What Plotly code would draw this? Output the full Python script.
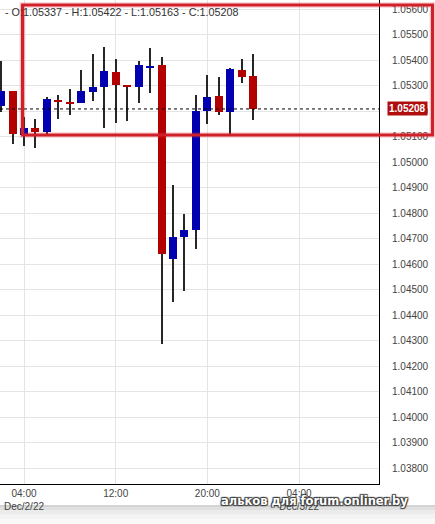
import plotly.graph_objects as go

# ---- data (hourly EUR/USD candles) ----
times = [
    "2022-12-02 02:00", "2022-12-02 03:00", "2022-12-02 04:00", "2022-12-02 05:00",
    "2022-12-02 06:00", "2022-12-02 07:00", "2022-12-02 08:00", "2022-12-02 09:00",
    "2022-12-02 10:00", "2022-12-02 11:00", "2022-12-02 12:00", "2022-12-02 13:00",
    "2022-12-02 14:00", "2022-12-02 15:00", "2022-12-02 16:00", "2022-12-02 17:00",
    "2022-12-02 18:00", "2022-12-02 19:00", "2022-12-02 20:00", "2022-12-02 21:00",
    "2022-12-02 22:00", "2022-12-02 23:00", "2022-12-03 00:00",
]
opens = [1.05220, 1.05278, 1.05106, 1.05132, 1.05119, 1.05243, 1.05236, 1.05233,
         1.05276, 1.05295, 1.05352, 1.05302, 1.05295, 1.05372, 1.05380, 1.04621,
         1.04707, 1.04735, 1.05201, 1.05259, 1.05197, 1.05361, 1.05337]
highs = [1.05397, 1.05280, 1.05175, 1.05169, 1.05256, 1.05263, 1.05285, 1.05361,
         1.05424, 1.05450, 1.05404, 1.05302, 1.05396, 1.05446, 1.05411, 1.04910,
         1.04796, 1.05263, 1.05341, 1.05332, 1.05367, 1.05403, 1.05422]
lows = [1.05197, 1.05071, 1.05063, 1.05055, 1.05106, 1.05167, 1.05184, 1.05230,
        1.05240, 1.05132, 1.05154, 1.05162, 1.05233, 1.05269, 1.04285, 1.04452,
        1.04495, 1.04660, 1.05151, 1.05184, 1.05106, 1.05311, 1.05163]
closes = [1.05278, 1.05109, 1.05133, 1.05119, 1.05247, 1.05235, 1.05229, 1.05278,
          1.05295, 1.05357, 1.05302, 1.05295, 1.05380, 1.05378, 1.04639, 1.04705,
          1.04733, 1.05200, 1.05255, 1.05197, 1.05365, 1.05335, 1.05208]

x_tickvals = ["2022-12-02 04:00", "2022-12-02 12:00", "2022-12-02 20:00", "2022-12-03 04:00"]
x_ticktext = ["04:00<br>Dec/2/22", "12:00", "20:00", "04:00<br>Dec/3/22"]
x_range = ["2022-12-02 01:54:20", "2022-12-03 10:58:40"]
y_range = [1.037373, 1.056353]

UP = "#0000b0"
DOWN = "#b30000"
WICK = "#262626"
HOUR_MS = 3600000

bases = [min(o, c) for o, c in zip(opens, closes)]
heights = [abs(c - o) for o, c in zip(opens, closes)]
colors = [UP if c >= o else DOWN for o, c in zip(opens, closes)]

fig = go.Figure()
# wicks
fig.add_trace(go.Bar(
    x=times, base=lows, y=[h - l for h, l in zip(highs, lows)],
    width=0.09 * HOUR_MS, marker=dict(color=WICK, line=dict(width=0)),
    hoverinfo="skip", showlegend=False,
))
# bodies
fig.add_trace(go.Bar(
    x=times, base=bases, y=heights,
    width=0.70 * HOUR_MS, marker=dict(color=colors, line=dict(width=0)),
    showlegend=False,
))

last_o, last_h, last_l, last_c = opens[-1], highs[-1], lows[-1], closes[-1]

font_main = "Liberation Sans, Arial, sans-serif"

shapes = [
    # current price dashed line
    dict(type="line", xref="paper", x0=0, x1=1, yref="y", y0=last_c, y1=last_c,
         line=dict(color="#000000", width=1, dash="3px,3px"), layer="above"),
]
# bottom shadow band
for py0, py1, col in [(505, 507, "#d4d4d4"), (507, 510, "#e0e0e0"), (510, 514, "#ebebeb"),
                      (514, 519, "#f3f3f3"), (519, 524, "#f9f9f9")]:
    shapes.append(dict(type="rect", xref="paper", yref="paper",
                       x0=0, x1=435 / 379, y0=(484 - py1) / 484, y1=(484 - py0) / 484,
                       fillcolor=col, line=dict(width=0), layer="below"))
# red hand-drawn highlight rectangle (glow + line)
rx0, rx1, ry0, ry1 = 22.5 / 379, 432.5 / 379, 1 - 135 / 484, 1 - 5 / 484
shapes.append(dict(type="rect", xref="paper", yref="paper", x0=rx0, x1=rx1, y0=ry0, y1=ry1,
                   line=dict(color="rgba(225,50,50,0.18)", width=6), layer="above"))
shapes.append(dict(type="rect", xref="paper", yref="paper", x0=rx0, x1=rx1, y0=ry0, y1=ry1,
                   line=dict(color="#d0202a", width=3.2), layer="above"))

annotations = [
    dict(xref="paper", yref="paper", x=3 / 379, y=1 - 12 / 484, xanchor="left", yanchor="middle",
         text=f"- O:{last_o:.5f} - H:{last_h:.5f} - L:{last_l:.5f} - C:{last_c:.5f}",
         showarrow=False, font=dict(family=font_main, size=10.8, color="#333333")),
    dict(xref="paper", yref="y", x=407 / 379, y=last_c, xanchor="center", yanchor="middle",
         text=f"<b>{last_c:.5f}</b>", showarrow=False, bgcolor="#b00d0d", borderpad=1,
         font=dict(family=font_main, size=10, color="white")),
    dict(xref="paper", yref="paper", x=314 / 379, y=(484 - 501) / 484, xanchor="center",
         yanchor="middle", text="<b>альков для forum.onliner.by</b>", showarrow=False,
         font=dict(family="DejaVu Sans, sans-serif", size=11.5, color="white",
                   shadow="1px 1px 1px #3a3a3a, -1px -1px 1px #3a3a3a, 1px -1px 1px #3a3a3a, -1px 1px 1px #3a3a3a")),
]

fig.update_layout(
    width=435, height=524,
    margin=dict(l=0, r=56, t=0, b=40, autoexpand=False),
    paper_bgcolor="white", plot_bgcolor="white",
    barmode="overlay", bargap=0,
    font=dict(family=font_main, size=10, color="#444444"),
    shapes=shapes, annotations=annotations,
    xaxis=dict(type="date", range=x_range, tickvals=x_tickvals, ticktext=x_ticktext,
               showgrid=True, gridcolor="#e4e4e4", gridwidth=1,
               showline=True, linecolor="#000000", linewidth=1, mirror=False,
               ticks="", zeroline=False, automargin=False,
               tickfont=dict(family=font_main, size=10, color="#444444")),
    yaxis=dict(side="right", range=y_range, dtick=0.001, tick0=1.05, tickformat=".5f",
               showgrid=True, gridcolor="#e4e4e4", gridwidth=1,
               showline=True, linecolor="#000000", linewidth=1,
               ticks="", ticklabelstandoff=10, zeroline=False, automargin=False,
               tickfont=dict(family=font_main, size=10, color="#444444")),
    hovermode=False,
)

fig.write_html("out.html", config={"displayModeBar": False},
               post_script="document.body.style.margin='0';")
